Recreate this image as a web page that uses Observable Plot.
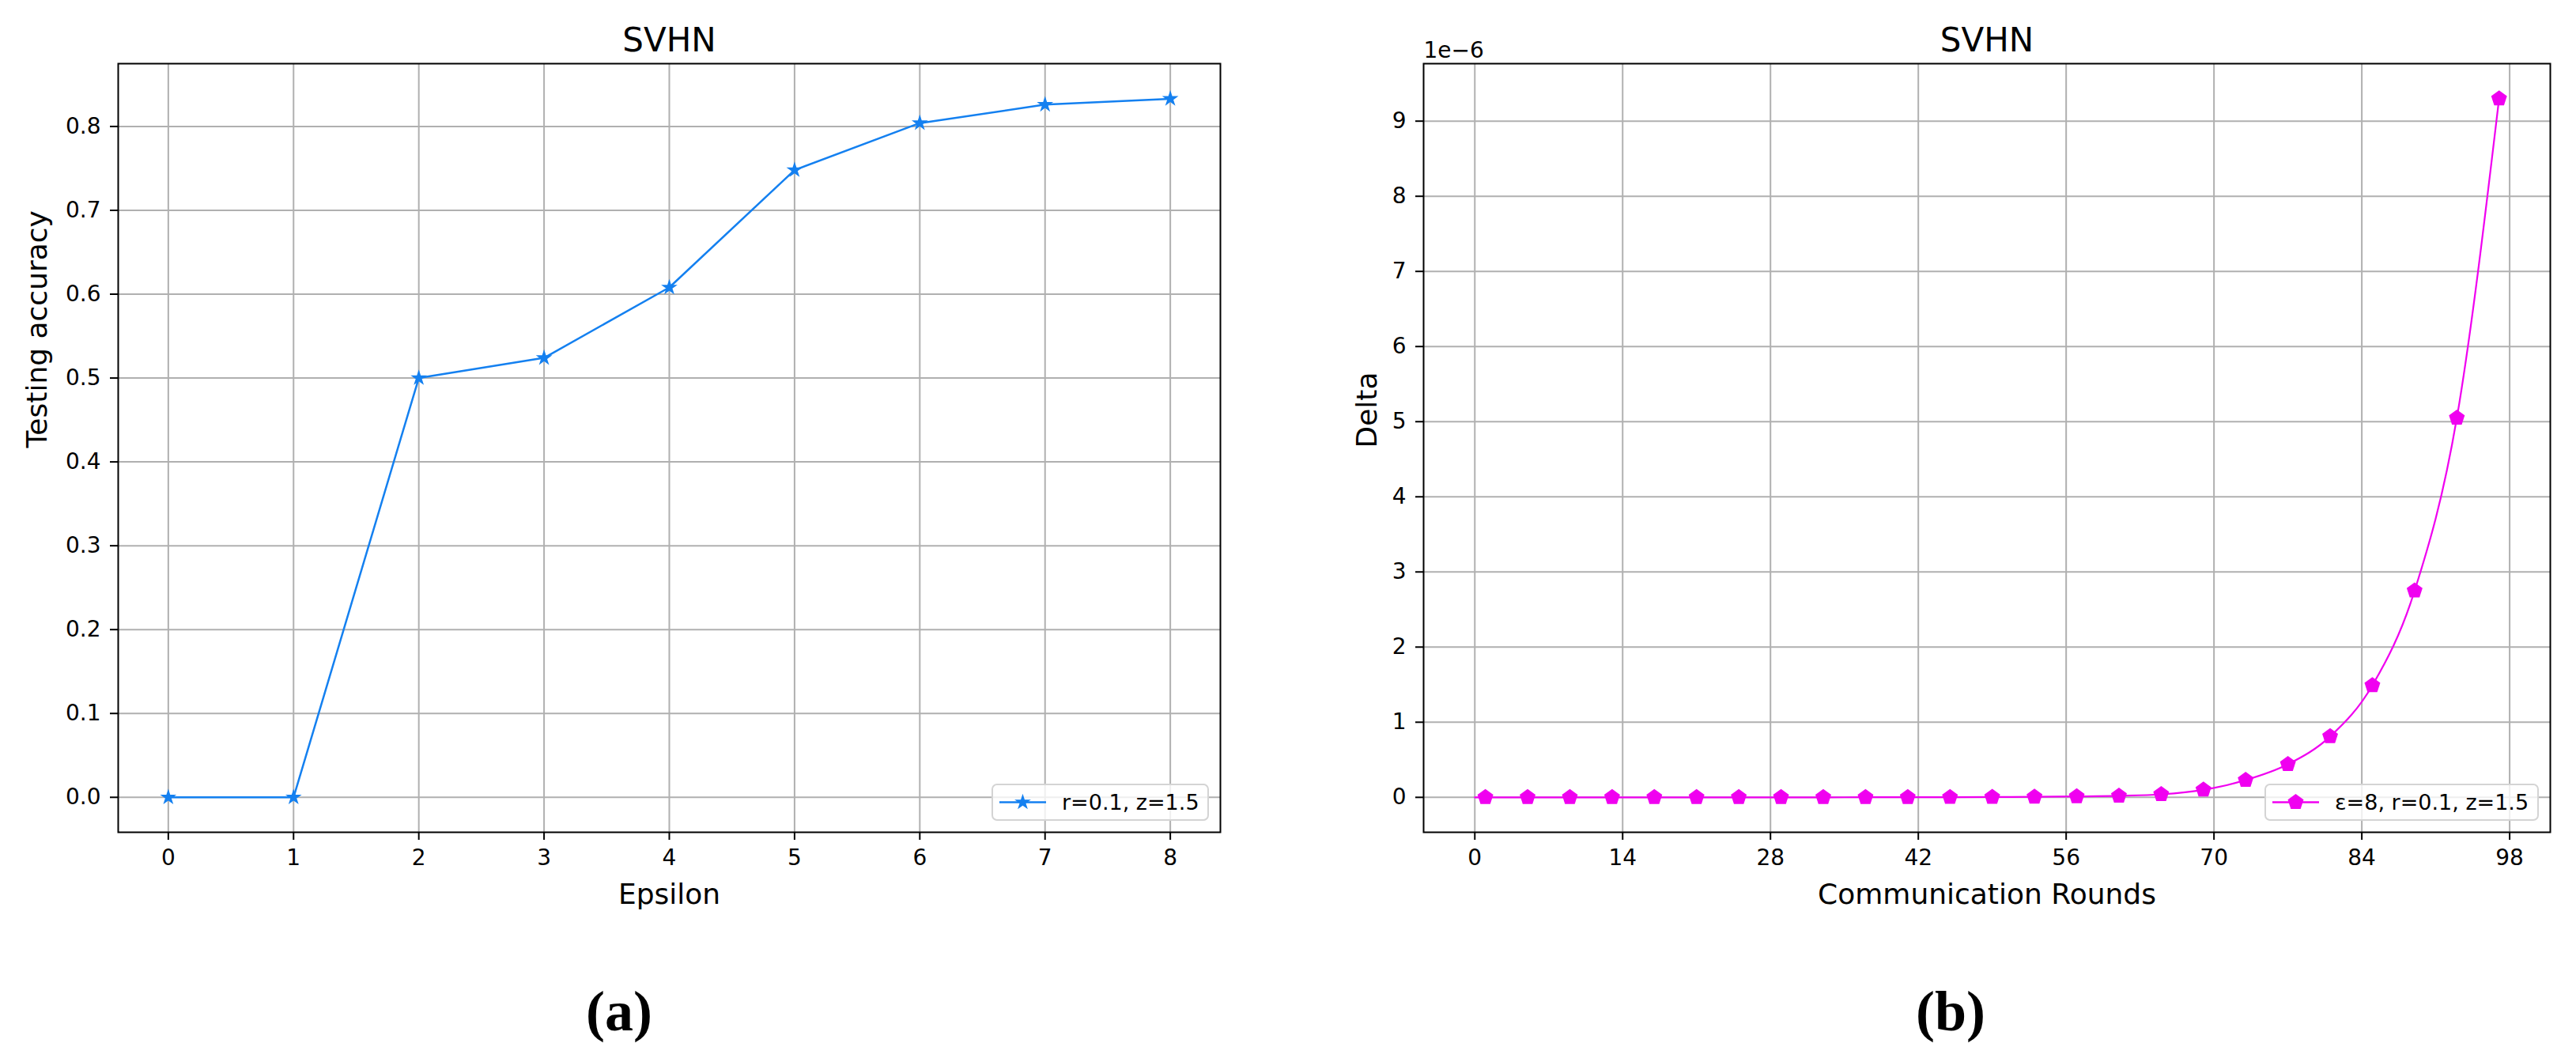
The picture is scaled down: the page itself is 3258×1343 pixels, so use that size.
<!DOCTYPE html>
<html><head><meta charset="utf-8">
<script src="https://cdn.jsdelivr.net/npm/d3@7"></script>
<script src="https://cdn.jsdelivr.net/npm/@observablehq/plot@0.6"></script>
<style>
html,body{margin:0;padding:0;background:#fff;}
#page{position:relative;width:3258px;height:1343px;overflow:hidden;font-family:"DejaVu Sans",sans-serif;background:#fff;}
.panel{position:absolute;top:0;}
.legend{position:absolute;box-sizing:border-box;height:47px;border:2px solid #d4d4d4;border-radius:7px;background:rgba(255,255,255,0.8);font-size:27px;color:#000;font-family:"DejaVu Sans",sans-serif;}
.legend svg{position:absolute;top:0;}
.legend span{position:absolute;top:50%;transform:translateY(-52%);white-space:nowrap;line-height:1;}
.caption{position:absolute;width:200px;text-align:center;font-family:"Liberation Serif","Times New Roman",serif;font-weight:bold;font-size:72px;line-height:72px;color:#000;}
</style>
</head><body>
<div id="page"></div>
<script>
// ---- Panel (a) data ----
const epsilon = [0, 1, 2, 3, 4, 5, 6, 7, 8];
const accuracy = [0.0, 0.0, 0.500, 0.524, 0.608, 0.748, 0.804, 0.826, 0.833];
const epsTicks = [0, 1, 2, 3, 4, 5, 6, 7, 8];
const accTicks = [0, 0.1, 0.2, 0.3, 0.4, 0.5, 0.6, 0.7, 0.8];
const legendA = "r=0.1, z=1.5";

// ---- Panel (b) data (Delta, in units of 1e-6) ----
const startRound = 0;
const startDelta = 0;
const rounds = [1, 5, 9, 13, 17, 21, 25, 29, 33, 37, 41, 45, 49, 53, 57, 61, 65, 69, 73, 77, 81, 85, 89, 93, 97];
const delta  = [0, 0, 0, 0, 0, 0, 0, 0, 0, 0.001, 0.001, 0.002, 0.004, 0.007, 0.012, 0.02, 0.04, 0.10, 0.23, 0.44, 0.81, 1.49, 2.75, 5.05, 9.3];
const roundTicks = [0, 14, 28, 42, 56, 70, 84, 98];
const deltaTicks = [0, 1, 2, 3, 4, 5, 6, 7, 8, 9];
const legendB = "ε=8, r=0.1, z=1.5";

const BLUE = "#1480f0";
const MAG = "#f000f0";
const GRID = "#b0b0b0";

const pentagon = {
  draw(ctx, size) {
    const R = Math.sqrt(size / Math.PI);
    for (let i = 0; i < 5; i++) {
      const a = -Math.PI / 2 + i * 2 * Math.PI / 5;
      const px = R * Math.cos(a), py = R * Math.sin(a);
      if (i) ctx.lineTo(px, py); else ctx.moveTo(px, py);
    }
    ctx.closePath();
  }
};

const baseStyle = {fontFamily: "DejaVu Sans", fontSize: "28px", color: "#000", background: "transparent", overflow: "visible"};
const gridOpts = {stroke: GRID, strokeOpacity: 1, strokeWidth: 2};
const axisOpts = {tickSize: 10, tickPadding: 12, strokeWidth: 2, label: null, fontSize: 28};

const accData = epsilon.map((e, i) => ({e, acc: accuracy[i]}));
const left = Plot.plot({
  width: 1650, height: 1200,
  marginLeft: 149, marginRight: 107, marginTop: 80, marginBottom: 148,
  style: baseStyle,
  x: {domain: [-0.4, 8.4]},
  y: {domain: [-0.0417, 0.8749]},
  marks: [
    Plot.gridX(epsTicks, gridOpts),
    Plot.gridY(accTicks, gridOpts),
    Plot.line(accData, {x: "e", y: "acc", stroke: BLUE, strokeWidth: 2.5}),
    Plot.dot(accData, {x: "e", y: "acc", symbol: "star", r: 6.5, fill: BLUE}),
    Plot.frame({stroke: "#000", strokeWidth: 2}),
    Plot.axisX(epsTicks, {...axisOpts, tickFormat: d3.format("d")}),
    Plot.axisY(accTicks, {...axisOpts, tickFormat: d3.format(".1f")}),
    Plot.text(["SVHN"], {frameAnchor: "top", dy: -16, lineAnchor: "bottom", fontSize: 42}),
    Plot.text(["Epsilon"], {frameAnchor: "bottom", dy: 90, lineAnchor: "bottom", fontSize: 36}),
    Plot.text(["Testing accuracy"], {frameAnchor: "left", dx: -91, rotate: -90, lineAnchor: "bottom", fontSize: 36})
  ]
});

const lineData = [{r: startRound, d: startDelta}, ...rounds.map((r, i) => ({r, d: delta[i]}))];
const markData = rounds.map((r, i) => ({r, d: delta[i]}));
const right = Plot.plot({
  width: 1608, height: 1200,
  marginLeft: 150, marginRight: 33, marginTop: 80, marginBottom: 148,
  style: baseStyle,
  x: {domain: [-4.85, 101.85]},
  y: {domain: [-0.465, 9.765]},
  marks: [
    Plot.gridX(roundTicks, gridOpts),
    Plot.gridY(deltaTicks, gridOpts),
    Plot.line(lineData, {x: "r", y: "d", stroke: MAG, strokeWidth: 2.2, curve: "monotone-x"}),
    Plot.dot(markData, {x: "r", y: "d", symbol: pentagon, r: 10.5, fill: MAG}),
    Plot.frame({stroke: "#000", strokeWidth: 2}),
    Plot.axisX(roundTicks, {...axisOpts, tickFormat: d3.format("d")}),
    Plot.axisY(deltaTicks, {...axisOpts, tickFormat: d3.format("d")}),
    Plot.text(["SVHN"], {frameAnchor: "top", dy: -16, lineAnchor: "bottom", fontSize: 42}),
    Plot.text(["1e\u22126"], {frameAnchor: "top-left", dy: -8, textAnchor: "start", lineAnchor: "bottom", fontSize: 28}),
    Plot.text(["Communication Rounds"], {frameAnchor: "bottom", dy: 90, lineAnchor: "bottom", fontSize: 36}),
    Plot.text(["Delta"], {frameAnchor: "left", dx: -60, rotate: -90, lineAnchor: "bottom", fontSize: 36})
  ]
});

const page = document.getElementById("page");
left.classList.add("panel"); left.style.left = "0px"; left.style.position = "absolute";
right.classList.add("panel"); right.style.left = "1650px"; right.style.position = "absolute";
page.appendChild(left);
page.appendChild(right);

function legend(x, w, color, symbolPath, label) {
  const div = document.createElement("div");
  div.className = "legend";
  div.style.left = x + "px"; div.style.top = "991px"; div.style.width = w + "px";
  const ns = "http://www.w3.org/2000/svg";
  const s = document.createElementNS(ns, "svg");
  s.setAttribute("width", 60); s.setAttribute("height", 43);
  s.style.left = "8px";
  const ln = document.createElementNS(ns, "line");
  ln.setAttribute("x1", 0); ln.setAttribute("x2", 59); ln.setAttribute("y1", 21.5); ln.setAttribute("y2", 21.5);
  ln.setAttribute("stroke", color); ln.setAttribute("stroke-width", 2.5);
  const p = document.createElementNS(ns, "path");
  p.setAttribute("d", symbolPath); p.setAttribute("fill", color);
  p.setAttribute("transform", "translate(29.5,21.5)");
  s.appendChild(ln); s.appendChild(p);
  div.appendChild(s);
  const sp = document.createElement("span");
  sp.textContent = label; sp.style.left = "87px";
  div.appendChild(sp);
  page.appendChild(div);
}
legend(1254, 275, BLUE, d3.symbol(d3.symbolStar, Math.PI * 6.5 * 6.5)(), legendA);
legend(2864, 347, MAG, d3.symbol(pentagon, Math.PI * 10.5 * 10.5)(), legendB);

function caption(cx, text) {
  const c = document.createElement("div");
  c.className = "caption";
  c.textContent = text;
  c.style.left = (cx - 100) + "px";
  c.style.top = "1243px";
  page.appendChild(c);
}
caption(783, "(a)");
caption(2467, "(b)");
</script>
</body></html>
